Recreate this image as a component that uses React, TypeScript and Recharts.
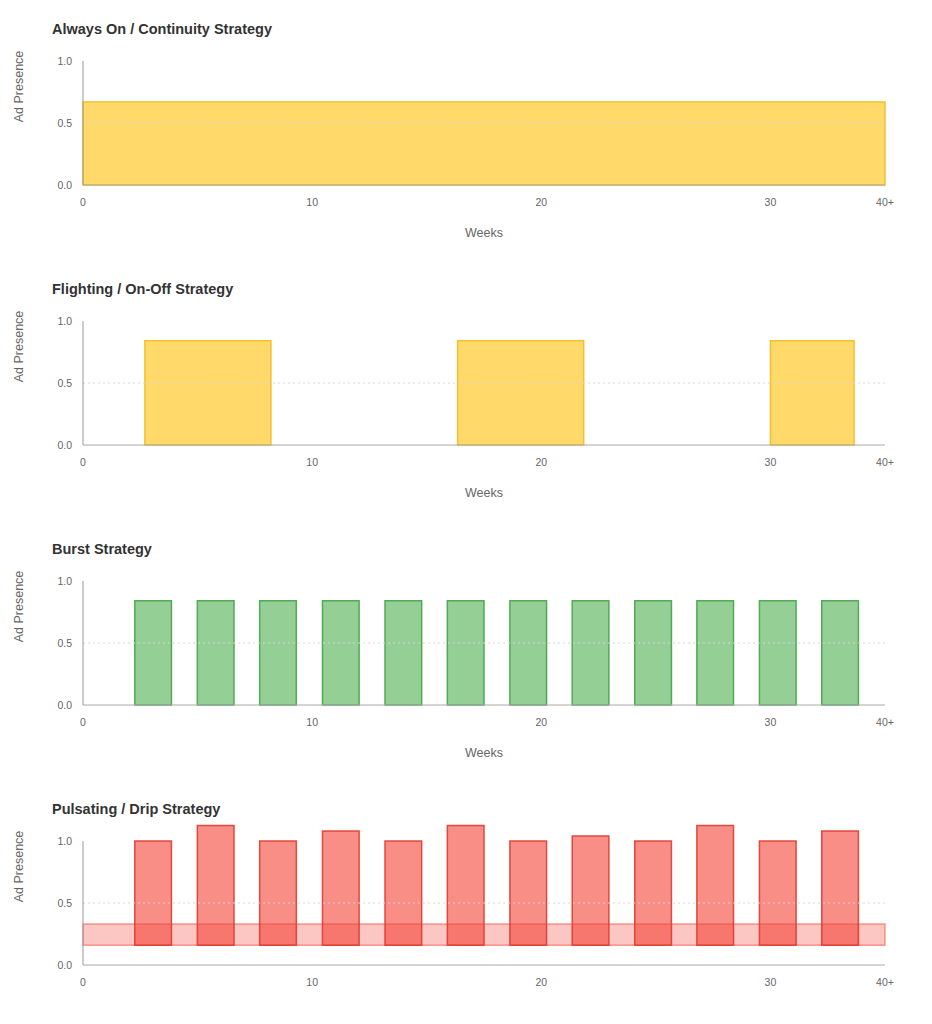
import React from 'react';
import { ComposedChart, XAxis, YAxis, ReferenceArea, ReferenceLine, Line } from 'recharts';

// ---- data ----
const xTicks = [0, 10, 20, 30, 35];
const xTickLabels = ['0', '10', '20', '30', '40+'];
const yTicks = [0, 0.5, 1];

const alwaysOnStart = [0];
const alwaysOnEnd = [35];
const alwaysOnLevel = [0.67];

const flightStart = [2.7, 16.35, 30.0];
const flightEnd = [8.2, 21.85, 33.65];
const flightLevel = [0.84, 0.84, 0.84];

const burstStart = [2.26, 4.99, 7.71, 10.45, 13.18, 15.9, 18.63, 21.35, 24.08, 26.79, 29.52, 32.24];
const burstEnd = [3.86, 6.59, 9.31, 12.05, 14.78, 17.5, 20.23, 22.95, 25.68, 28.39, 31.12, 33.84];
const burstLevel = [0.84, 0.84, 0.84, 0.84, 0.84, 0.84, 0.84, 0.84, 0.84, 0.84, 0.84, 0.84];

const pulseStart = [2.26, 4.99, 7.71, 10.45, 13.18, 15.9, 18.63, 21.35, 24.08, 26.79, 29.52, 32.24];
const pulseEnd = [3.86, 6.59, 9.31, 12.05, 14.78, 17.5, 20.23, 22.95, 25.68, 28.39, 31.12, 33.84];
const pulseTop = [1.0, 1.125, 1.0, 1.08, 1.0, 1.125, 1.0, 1.04, 1.0, 1.125, 1.0, 1.08];
const pulseBase = [0.16, 0.16, 0.16, 0.16, 0.16, 0.16, 0.16, 0.16, 0.16, 0.16, 0.16, 0.16];
const pulseBandStart = [0];
const pulseBandEnd = [35];
const pulseBandLow = [0.16];
const pulseBandHigh = [0.33];

const titles = [
  'Always On / Continuity Strategy',
  'Flighting / On-Off Strategy',
  'Burst Strategy',
  'Pulsating / Drip Strategy',
];

const FONT = '"Liberation Sans", Arial, Helvetica, sans-serif';
const W = 932;
const H = 260;

type Rect = { x1: number; x2: number; y1: number; y2: number };
type Layer = { rects: Rect[]; fill: string; fillOpacity: number; stroke: string; strokeOpacity: number };

const toRects = (s: number[], e: number[], lo: number[], hi: number[]): Rect[] =>
  s.map((v, i) => ({ x1: v, x2: e[i], y1: lo[i], y2: hi[i] }));

const zeros = (n: number) => new Array(n).fill(0);

const panels: { title: string; layers: Layer[]; showWeeks: boolean }[] = [
  {
    title: titles[0],
    showWeeks: true,
    layers: [
      { rects: toRects(alwaysOnStart, alwaysOnEnd, zeros(1), alwaysOnLevel), fill: '#FFC107', fillOpacity: 0.6, stroke: '#F2C12E', strokeOpacity: 1 },
    ],
  },
  {
    title: titles[1],
    showWeeks: true,
    layers: [
      { rects: toRects(flightStart, flightEnd, zeros(3), flightLevel), fill: '#FFC107', fillOpacity: 0.6, stroke: '#F2C12E', strokeOpacity: 1 },
    ],
  },
  {
    title: titles[2],
    showWeeks: true,
    layers: [
      { rects: toRects(burstStart, burstEnd, zeros(12), burstLevel), fill: '#4CAF50', fillOpacity: 0.6, stroke: '#4CA64F', strokeOpacity: 0.95 },
    ],
  },
  {
    title: titles[3],
    showWeeks: false,
    layers: [
      { rects: toRects(pulseBandStart, pulseBandEnd, pulseBandLow, pulseBandHigh), fill: '#F44336', fillOpacity: 0.3, stroke: '#F44336', strokeOpacity: 0.5 },
      { rects: toRects(pulseStart, pulseEnd, pulseBase, pulseTop), fill: '#F44336', fillOpacity: 0.6, stroke: '#E03A30', strokeOpacity: 0.9 },
    ],
  },
];

const axisData = xTicks.map((x) => ({ x, y: 0 }));

function Panel({ title, layers, showWeeks }: { title: string; layers: Layer[]; showWeeks: boolean }) {
  return (
    <div style={{ position: 'relative', width: W, height: H }}>
      <ComposedChart width={W} height={H} data={axisData} margin={{ top: 61, right: 47, bottom: 0, left: 0 }}>
        <XAxis
          dataKey="x"
          type="number"
          domain={[0, 35]}
          ticks={xTicks}
          tickFormatter={(v: number) => xTickLabels[xTicks.indexOf(v)]}
          tickLine={false}
          tickSize={6}
          tickMargin={8}
          height={75}
          axisLine={{ stroke: '#aaa' }}
          tick={{ fontSize: 10.5, fill: '#666', fontFamily: FONT }}
          interval={0}
        />
        <YAxis
          type="number"
          domain={[0, 1]}
          ticks={yTicks}
          tickFormatter={(v: number) => v.toFixed(1)}
          tickLine={false}
          tickSize={6}
          tickMargin={5}
          width={83}
          axisLine={{ stroke: '#999' }}
          tick={{ fontSize: 10.5, fill: '#666', fontFamily: FONT }}
          interval={0}
        />
        <Line dataKey="y" stroke="none" dot={false} activeDot={false} isAnimationActive={false} legendType="none" />
        {layers.map((layer, li) =>
          layer.rects.map((r, i) => (
            <ReferenceArea
              key={`${li}-${i}`}
              x1={r.x1}
              x2={r.x2}
              y1={r.y1}
              y2={r.y2}
              ifOverflow="visible"
              fill={layer.fill}
              fillOpacity={layer.fillOpacity}
              stroke={layer.stroke}
              strokeOpacity={layer.strokeOpacity}
              strokeWidth={1.5}
            />
          ))
        )}
        <ReferenceLine y={0.5} stroke="#d6d6d6" strokeDasharray="2 3" ifOverflow="visible" />
      </ComposedChart>
      <svg width={W} height={H} style={{ position: 'absolute', left: 0, top: 0, pointerEvents: 'none' }}>
        <text x={52} y={34} fontFamily={FONT} fontSize={14.5} fontWeight="bold" fill="#333">
          {title}
        </text>
        <text
          x={22.5}
          y={86.5}
          transform="rotate(-90 22.5 86.5)"
          textAnchor="middle"
          fontFamily={FONT}
          fontSize={12.5}
          fill="#666"
        >
          Ad Presence
        </text>
        {showWeeks && (
          <text x={484} y={236.7} textAnchor="middle" fontFamily={FONT} fontSize={12.5} fill="#666">
            Weeks
          </text>
        )}
      </svg>
    </div>
  );
}

export default function App() {
  return (
    <div style={{ position: 'absolute', left: 0, top: 0, width: W, background: '#fff', fontFamily: FONT }}>
      {panels.map((p, i) => (
        <Panel key={i} title={p.title} layers={p.layers} showWeeks={p.showWeeks} />
      ))}
    </div>
  );
}
